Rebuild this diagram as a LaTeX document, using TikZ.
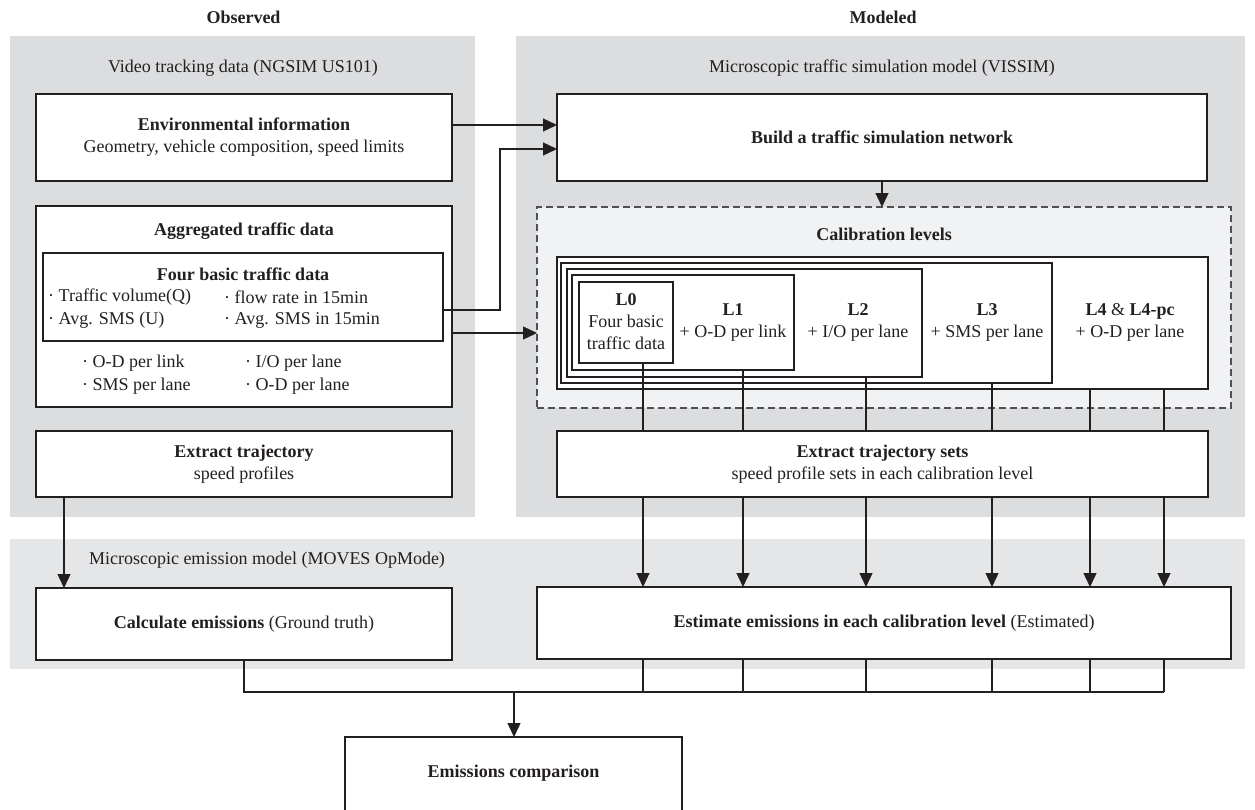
\documentclass[tikz,border=0pt]{standalone}
\usepackage{fontspec}
\setmainfont{Liberation Serif}
\usetikzlibrary{arrows.meta}
\definecolor{panelgray}{RGB}{220,221,223}
\definecolor{emigray}{RGB}{229,230,231}
\definecolor{dashfill}{RGB}{241,242,243}
\definecolor{ink}{RGB}{35,31,32}
\definecolor{dashink}{RGB}{80,80,82}
\tikzset{
  every node/.style={font=\fontsize{18}{22}\selectfont, text=ink},
  box/.style={draw=ink, fill=white, line width=1.3pt, inner sep=0pt, outer sep=0pt, align=center},
  lvl/.style={draw=ink, line width=1.1pt, inner sep=0pt, outer sep=0pt},
  txt/.style={inner sep=0pt, align=center},
  ltxt/.style={inner sep=0pt, anchor=west},
  conn/.style={draw=ink, line width=1.3pt},
  arr/.style={conn, -{Triangle[length=14pt,width=13pt]}},
}
\begin{document}
\begin{tikzpicture}[x=1pt,y=-1pt]
\useasboundingbox (0,0) rectangle (1255,809);
\clip (0,0) rectangle (1255,809);
% titles
\node[txt, font=\bfseries\fontsize{18}{20}\selectfont] (tobs) at (243.5,17) {Observed};
\node[txt, font=\bfseries\fontsize{18}{20}\selectfont] (tmod) at (883,17) {Modeled};
% panels
\fill[panelgray] (10,36) rectangle (475,517);
\fill[panelgray] (516,36) rectangle (1245,517);
\fill[emigray] (10,539) rectangle (1245,669);
\node[txt] (pvid) at (243,68) {Video tracking data (NGSIM US101)};
\node[txt] (pvis) at (882,68) {Microscopic traffic simulation model (VISSIM)};
\node[txt] (pemi) at (267,560) {Microscopic emission model (MOVES OpMode)};
% left column boxes
\node[box, minimum width=416pt, minimum height=87pt] (env) at (244,137.5)
  {\textbf{Environmental information}\\Geometry, vehicle composition, speed limits};
\node[box, minimum width=416pt, minimum height=201pt] (agg) at (244,306.5) {};
\node[txt] (aggt) at (244,231) {\textbf{Aggregated traffic data}};
\node[box, minimum width=400pt, minimum height=88pt] (four) at (243,297) {};
\node[txt] (fourt) at (243,274) {\textbf{Four basic traffic data}};
\node[ltxt] (a1) at (48,297) {· Traffic volume(Q)};
\node[ltxt] (a2) at (224,297) {· flow rate in 15min};
\node[ltxt] (a3) at (48,320) {· Avg. SMS (U)};
\node[ltxt] (a4) at (224,320) {· Avg. SMS in 15min};
\node[ltxt] (b1) at (82,363) {· O-D per link};
\node[ltxt] (b2) at (245,363) {· I/O per lane};
\node[ltxt] (b3) at (82,386) {· SMS per lane};
\node[ltxt] (b4) at (245,386) {· O-D per lane};
\node[box, minimum width=416pt, minimum height=66pt] (extr) at (244,464)
  {\textbf{Extract trajectory}\\speed profiles};
\node[box, minimum width=416pt, minimum height=72pt] (calc) at (244,624)
  {\textbf{Calculate emissions} (Ground truth)};
\node[box, minimum width=337pt, minimum height=130pt] (comp) at (513.5,802) {};
\node[txt] (compt) at (513.5,773) {\textbf{Emissions comparison}};
% right column
\node[box, minimum width=650pt, minimum height=87pt] (build) at (882,137.5)
  {\textbf{Build a traffic simulation network}};
\node[draw=dashink, fill=dashfill, dash pattern=on 7pt off 4pt, line width=1.1pt,
  inner sep=0pt, outer sep=0pt, minimum width=694pt, minimum height=201pt] (calib) at (884,307.5) {};
\node[txt] (calt) at (884,234) {\textbf{Calibration levels}};
\node[box, line width=1.1pt, minimum width=651pt, minimum height=132pt] (L4) at (882.5,323) {};
\node[lvl, minimum width=491pt, minimum height=120pt] (L3) at (806.5,323) {};
\node[lvl, minimum width=355pt, minimum height=108pt] (L2) at (744.5,323) {};
\node[lvl, minimum width=222pt, minimum height=95pt] (L1) at (683,322.5) {};
\node[lvl, minimum width=94pt, minimum height=81pt] (L0) at (626,322.5) {};
\node[txt] (L0t) at (626,322) {\textbf{L0}\\Four basic\\traffic data};
\node[txt] (L1t) at (733,322) {\textbf{L1}\\+ O-D per link};
\node[txt] (L2t) at (858,322) {\textbf{L2}\\+ I/O per lane};
\node[txt] (L3t) at (987,322) {\textbf{L3}\\+ SMS per lane};
\node[txt] (L4t) at (1130,322) {\textbf{L4} \& \textbf{L4-pc}\\+ O-D per lane};
\node[box, minimum width=651pt, minimum height=66pt] (sets) at (882.5,464)
  {\textbf{Extract trajectory sets}\\speed profile sets in each calibration level};
\node[box, minimum width=694pt, minimum height=72pt] (est) at (884,623)
  {\textbf{Estimate emissions in each calibration level} (Estimated)};
% connectors
\draw[arr] (env.east |- 0,125) -- (build.west |- 0,125);
\draw[arr] (four.east |- 0,310) -- (500,310) -- (500,149) -- (build.west |- 0,149);
\draw[arr] (agg.east |- 0,333) -- (calib.west |- 0,333);
\draw[arr] (build.south) -- (build.south |- calib.north);
\foreach \x/\n in {643/L0,743/L1,866/L2,992/L3,1090/L4,1164/L4}{
  \draw[conn] (\n.south -| \x,0) -- (sets.north -| \x,0);
  \draw[arr] (sets.south -| \x,0) -- (est.north -| \x,0);
  \draw[conn] (est.south -| \x,0) -- (\x,692);
}
\draw[arr] (extr.south -| 64,0) -- (calc.north -| 64,0);
\draw[conn] (calc.south) -- (calc.south |- 0,692) -- (1164,692);
\draw[arr] (514,692) -- (comp.north -| 514,0);
\end{tikzpicture}
\end{document}
